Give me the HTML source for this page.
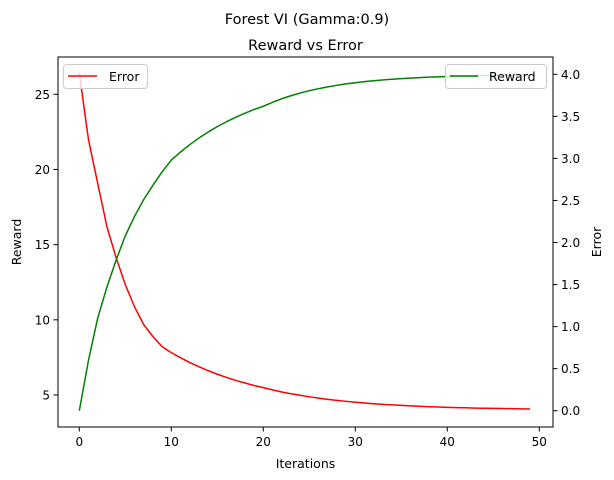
<!DOCTYPE html>
<html><head><meta charset="utf-8"><style>
body{margin:0;background:#fff}
svg{display:block;font-family:"DejaVu Sans","Liberation Sans",sans-serif}
</style></head><body>
<svg id="chart" width="614" height="480" viewBox="0 0 614 480">
<rect width="614" height="480" fill="#fff"/>
<text x="307" y="24" font-size="14.5" text-anchor="middle">Forest VI (Gamma:0.9)</text>
<text x="305.5" y="50" font-size="14.5" text-anchor="middle">Reward vs Error</text>
<g id="marks"></g>
<rect x="58" y="57" width="495" height="370" fill="none" stroke="#000" stroke-width="1"/>
<g id="axes" font-size="12"></g>
<text x="305.5" y="468" font-size="12.5" text-anchor="middle">Iterations</text>
<text transform="translate(21,242) rotate(-90)" font-size="12.5" text-anchor="middle">Reward</text>
<text transform="translate(601,242) rotate(-90)" font-size="12.5" text-anchor="middle">Error</text>
<g>
<rect x="63.5" y="64.5" width="84" height="24" rx="3" fill="#fff" fill-opacity="0.8" stroke="#ccc"/>
<line x1="68" y1="76" x2="97" y2="76" stroke="red" stroke-width="1.5"/>
<text x="109" y="81" font-size="12.5">Error</text>
</g>
<g>
<rect x="445.5" y="64.5" width="101" height="24" rx="3" fill="#fff" fill-opacity="0.8" stroke="#ccc"/>
<line x1="450" y1="76" x2="478" y2="76" stroke="green" stroke-width="1.5"/>
<text x="489" y="81" font-size="12.5">Reward</text>
</g>
</svg>
<script>
const iterations = Array.from({length:50},(_, i)=>i);
const errorValues = [26.4,21.98,19.08,16.2,14.14,12.34,10.87,9.68,8.89,8.22,7.82,7.48,7.16,6.88,6.62,6.38,6.17,5.97,5.80,5.63,5.49,5.34,5.20,5.08,4.98,4.88,4.79,4.71,4.64,4.58,4.52,4.47,4.42,4.38,4.34,4.31,4.28,4.25,4.22,4.20,4.18,4.16,4.15,4.13,4.12,4.11,4.10,4.09,4.08,4.07];
const rewardValues = [0,0.60,1.10,1.47,1.79,2.08,2.31,2.51,2.68,2.84,2.98,3.076,3.163,3.242,3.313,3.378,3.436,3.489,3.537,3.581,3.62,3.667,3.709,3.745,3.777,3.805,3.829,3.851,3.869,3.886,3.90,3.9125,3.923,3.933,3.941,3.949,3.955,3.961,3.966,3.970,3.974,3.977,3.980,3.982,3.985,3.987,3.988,3.990,3.991,3.992];
const xTicks = [0,10,20,30,40,50];
const leftTicks = [5,10,15,20,25];
const rightTicks = [0.0,0.5,1.0,1.5,2.0,2.5,3.0,3.5,4.0];

const xS = v => 79.3 + v*9.2;
const yL = v => 395 - (v-5)*15.035;
const yR = v => 410.7 - v*84.1;
const NS = "http://www.w3.org/2000/svg";
const marks = document.getElementById('marks');
const axes = document.getElementById('axes');
function mk(tag, attrs, parent){const e=document.createElementNS(NS,tag);for(const k in attrs)e.setAttribute(k,attrs[k]);parent.appendChild(e);return e;}

const ep = mk('polyline',{points:iterations.map((x,i)=>xS(x)+','+yL(errorValues[i])).join(' '),fill:'none',stroke:'red','stroke-width':1.5,'stroke-linejoin':'round'},marks);


const rp = mk('polyline',{points:iterations.map((x,i)=>xS(x)+','+yR(rewardValues[i])).join(' '),fill:'none',stroke:'green','stroke-width':1.5,'stroke-linejoin':'round'},marks);



xTicks.forEach(t=>{
  const x=xS(t);
  const l=mk('line',{x1:x,x2:x,y1:427,y2:431.5,stroke:'#000'},axes);
  
  
  const tx=mk('text',{x:x,y:446,'text-anchor':'middle'},axes);tx.textContent=t;
  
  
});
leftTicks.forEach(t=>{
  const y=yL(t);
  const l=mk('line',{x1:53.5,x2:58,y1:y,y2:y,stroke:'#000'},axes);
  
  
  const tx=mk('text',{x:50,y:y+4.5,'text-anchor':'end'},axes);tx.textContent=t;
  
  
});
rightTicks.forEach(t=>{
  const y=yR(t);
  const l=mk('line',{x1:553,x2:557.5,y1:y,y2:y,stroke:'#000'},axes);
  
  
  const tx=mk('text',{x:561,y:y+4.5,'text-anchor':'start'},axes);tx.textContent=t.toFixed(1);
  
  
});
</script>
</body></html>
